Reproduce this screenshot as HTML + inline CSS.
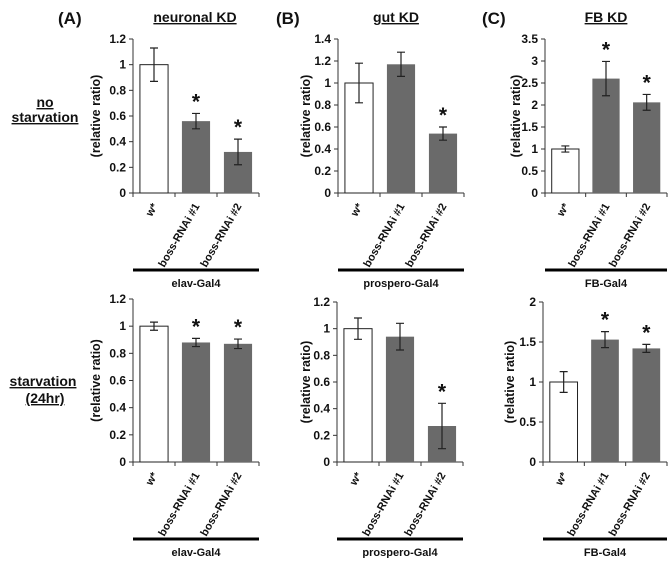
<!DOCTYPE html>
<html><head><meta charset="utf-8">
<style>
body{margin:0;background:#fff;}
svg text{font-family:"Liberation Sans",Arial,sans-serif;font-weight:bold;fill:#111;}
</style></head>
<body>
<svg id="fig" width="670" height="558" viewBox="0 0 670 558" xmlns="http://www.w3.org/2000/svg">
<g id="static">
<text x="58" y="24" font-size="17">(A)</text>
<text x="195" y="22" font-size="14" text-anchor="middle" text-decoration="underline">neuronal KD</text>
<text x="276" y="24" font-size="17">(B)</text>
<text x="396" y="22" font-size="14" text-anchor="middle" text-decoration="underline">gut KD</text>
<text x="482" y="24" font-size="17">(C)</text>
<text x="606" y="22" font-size="14" text-anchor="middle" text-decoration="underline">FB KD</text>
<text x="45" y="107" font-size="14" text-anchor="middle" text-decoration="underline">no</text>
<text x="45" y="122" font-size="14" text-anchor="middle" text-decoration="underline">starvation</text>
<text x="43" y="386" font-size="14" text-anchor="middle" text-decoration="underline">starvation</text>
<text x="45" y="403" font-size="14" text-anchor="middle" text-decoration="underline"> (24hr)</text>
</g>
<g id="charts"></g>
</svg>
<script>
const categories = ["w*", "boss-RNAi #1", "boss-RNAi #2"];
const aTopValues = [1, 0.56, 0.32];
const aTopErrors = [0.13, 0.06, 0.1];
const aTopTicks = [0, 0.2, 0.4, 0.6, 0.8, 1, 1.2];
const bTopValues = [1, 1.17, 0.54];
const bTopErrors = [0.18, 0.11, 0.06];
const bTopTicks = [0, 0.2, 0.4, 0.6, 0.8, 1, 1.2, 1.4];
const cTopValues = [1, 2.6, 2.06];
const cTopErrors = [0.07, 0.39, 0.18];
const cTopTicks = [0, 0.5, 1, 1.5, 2, 2.5, 3, 3.5];
const aBotValues = [1, 0.88, 0.87];
const aBotErrors = [0.03, 0.03, 0.035];
const aBotTicks = [0, 0.2, 0.4, 0.6, 0.8, 1, 1.2];
const bBotValues = [1, 0.94, 0.27];
const bBotErrors = [0.08, 0.1, 0.17];
const bBotTicks = [0, 0.2, 0.4, 0.6, 0.8, 1, 1.2];
const cBotValues = [1, 1.53, 1.42];
const cBotErrors = [0.13, 0.1, 0.05];
const cBotTicks = [0, 0.5, 1, 1.5, 2];
const aStars = [false, true, true];
const bTopStars = [false, false, true];
const cStars = [false, true, true];
const bBotStars = [false, false, true];
const drivers = ["elav-Gal4", "prospero-Gal4", "FB-Gal4"];

const NS = "http://www.w3.org/2000/svg";
const root = document.getElementById("charts");
function mk(tag, attrs, parent){const e=document.createElementNS(NS,tag);for(const k in attrs)e.setAttribute(k,attrs[k]);(parent||root).appendChild(e);return e;}

function chart(id, x0, w, yBase, yTop, ticks, values, errors, stars, driver, titleX){
  const g = mk("g", {});
  
  
  const maxV = ticks[ticks.length-1];
  const yS = v => yBase - (v/maxV)*(yBase-yTop);
  const bw = w/categories.length;
  const xS = i => x0 + bw*i + bw/2;
  const ya = mk("line",{x1:x0,y1:yTop,x2:x0,y2:yBase,stroke:"#333","stroke-width":1},g);
  
  
  const xa = mk("line",{x1:x0,y1:yBase,x2:x0+w,y2:yBase,stroke:"#333","stroke-width":1},g);
  
  
  ticks.forEach(t=>{
    mk("line",{x1:x0-4,y1:yS(t),x2:x0,y2:yS(t),stroke:"#333"},g);
    const tl = mk("text",{x:x0-7,y:yS(t)+4,"font-size":12,"text-anchor":"end"},g);
    tl.textContent = t;
    
    
  });
  for(let i=0;i<=categories.length;i++) mk("line",{x1:x0+bw*i,y1:yBase,x2:x0+bw*i,y2:yBase+4,stroke:"#333"},g);
  const yt = mk("text",{transform:`translate(${titleX},${(yBase+yTop)/2}) rotate(-90)`,"font-size":12.5,"text-anchor":"middle"},g);
  yt.textContent = "(relative ratio)";
  
  
  values.forEach((v,i)=>{
    const barW = bw*0.67;
    const b = mk("rect",{x:xS(i)-barW/2,y:yS(v),width:barW,height:yBase-yS(v),fill:i===0?"#fff":"#6a6a6a",stroke:i===0?"#222":"none","stroke-width":1},g);
    
    
    const e = errors[i];
    const hi = yS(v+e), lo = yS(v-e);
    const eb = mk("path",{d:`M${xS(i)},${hi}V${lo}M${xS(i)-4},${hi}H${xS(i)+4}M${xS(i)-4},${lo}H${xS(i)+4}`,stroke:"#222","stroke-width":1.2,fill:"none"},g);
    
    
    if(stars[i]){
      const s = mk("text",{x:xS(i),y:hi-5,"font-size":21,"text-anchor":"middle"},g);
      s.textContent = "*";
      
      
    }
    const cx = xS(i)+4, cy = yBase+13;
    const xl = mk("text",{transform:`translate(${cx},${cy}) rotate(-60)`,"font-size":11,"text-anchor":"end"},g);
    xl.textContent = categories[i];
    
    
  });
  const lineY = yBase + 77;
  const dl = mk("line",{x1:x0,y1:lineY,x2:x0+w,y2:lineY,stroke:"#000","stroke-width":3},g);
  
  
  const dt = mk("text",{x:x0+w/2,y:lineY+17,"font-size":11,"text-anchor":"middle"},g);
  dt.textContent = driver;
  
  
}
chart("a-top",133,126,193,39,aTopTicks,aTopValues,aTopErrors,aStars,drivers[0],100);
chart("b-top",338,126,193,39,bTopTicks,bTopValues,bTopErrors,bTopStars,drivers[1],310);
chart("c-top",545,122,193,39,cTopTicks,cTopValues,cTopErrors,cStars,drivers[2],520);
chart("a-bot",133,126,462,299,aBotTicks,aBotValues,aBotErrors,aStars,drivers[0],100);
chart("b-bot",337,126,462,302,bBotTicks,bBotValues,bBotErrors,bBotStars,drivers[1],310);
chart("c-bot",543,124,462,302,cBotTicks,cBotValues,cBotErrors,cStars,drivers[2],514);
</script>
</body></html>
